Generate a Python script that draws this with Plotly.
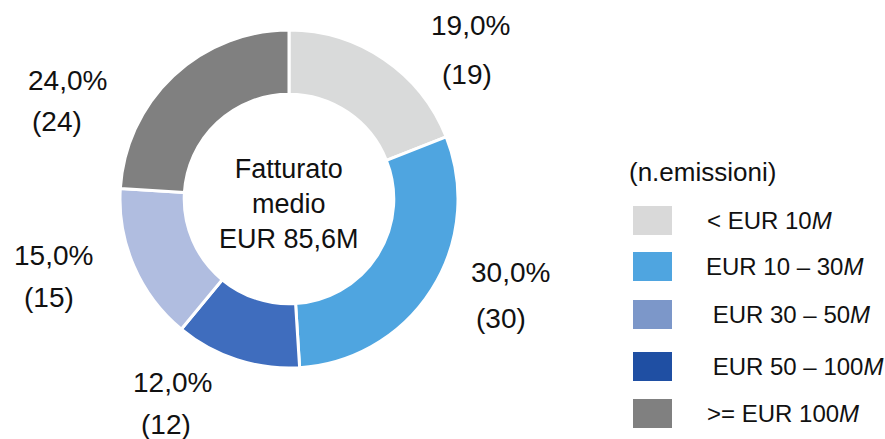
import plotly.graph_objects as go

W, H = 885, 439

categories = ["< EUR 10<i>M</i>", "EUR 10 – 30<i>M</i>", " EUR 30 – 50<i>M</i>",
              " EUR 50 – 100<i>M</i>", ">= EUR 100<i>M</i>"]
counts = [19, 30, 12, 15, 24]
pct_labels = ["19,0%", "30,0%", "12,0%", "15,0%", "24,0%"]
count_labels = ["(19)", "(30)", "(12)", "(15)", "(24)"]
center_text = "Fatturato<br>medio<br>EUR 85,6M"
legend_title = "(n.emissioni)"

slice_colors = ["#D9DADA", "#4FA5E0", "#3F6DBE", "#B0BDE0", "#808080"]
legend_colors = ["#D9D9D9", "#4FA5E0", "#7C97C9", "#1F4FA3", "#808080"]

# label placement (pixel positions of the two text lines for each slice)
pct_pos = [(470, 25), (510, 272), (172, 382), (53, 255), (67, 80)]
cnt_pos = [(467, 74), (501, 318), (166, 424), (49, 297), (57, 122)]

FONT = "Liberation Sans, Arial, sans-serif"

def px(x):
    return x / W

def py(y):
    return 1 - y / H

cx, cy, r = 289, 199, 169

fig = go.Figure(go.Pie(
    values=counts,
    labels=categories,
    sort=False,
    direction="clockwise",
    rotation=0,
    hole=0.62,
    marker=dict(colors=slice_colors, line=dict(color="white", width=3)),
    textinfo="none",
    hoverinfo="label+value",
    showlegend=False,
    domain=dict(x=[px(cx - r), px(cx + r)], y=[py(cy + r), py(cy - r)]),
))

annotations = []
for t, (x, y) in zip(pct_labels, pct_pos):
    annotations.append(dict(text=t, x=px(x), y=py(y), xref="paper", yref="paper",
                            xanchor="center", yanchor="middle", showarrow=False,
                            font=dict(size=28, color="#111111", family=FONT)))
for t, (x, y) in zip(count_labels, cnt_pos):
    annotations.append(dict(text=t, x=px(x), y=py(y), xref="paper", yref="paper",
                            xanchor="center", yanchor="middle", showarrow=False,
                            font=dict(size=28, color="#111111", family=FONT)))

annotations.append(dict(text=center_text, x=px(cx), y=py(204), xref="paper", yref="paper",
                        xanchor="center", yanchor="middle", showarrow=False,
                        font=dict(size=27, color="#111111", family=FONT)))

annotations.append(dict(text=legend_title, x=px(627), y=py(172), xref="paper", yref="paper",
                        xanchor="left", yanchor="middle", showarrow=False,
                        font=dict(size=26, color="#111111", family=FONT)))

shapes = []
row_top = [206, 252, 300, 352, 399]
text_left = [705, 704, 704, 704, 705]
for i, (cat, col) in enumerate(zip(categories, legend_colors)):
    y0 = row_top[i]
    shapes.append(dict(type="rect", xref="paper", yref="paper",
                       x0=px(633), x1=px(672), y0=py(y0 + 29), y1=py(y0),
                       fillcolor=col, line=dict(width=0)))
    annotations.append(dict(text=cat, x=px(text_left[i]), y=py(y0 + 14.5), xref="paper", yref="paper",
                            xanchor="left", yanchor="middle", showarrow=False,
                            font=dict(size=24, color="#111111", family=FONT)))

fig.update_layout(
    width=W, height=H,
    margin=dict(l=0, r=0, t=0, b=0),
    paper_bgcolor="white", plot_bgcolor="white",
    annotations=annotations, shapes=shapes,
    showlegend=False,
)

fig.write_html("out.html",
               config={"displayModeBar": False},
               post_script="document.body.style.margin='0';document.body.style.padding='0';document.body.style.overflow='hidden';")
